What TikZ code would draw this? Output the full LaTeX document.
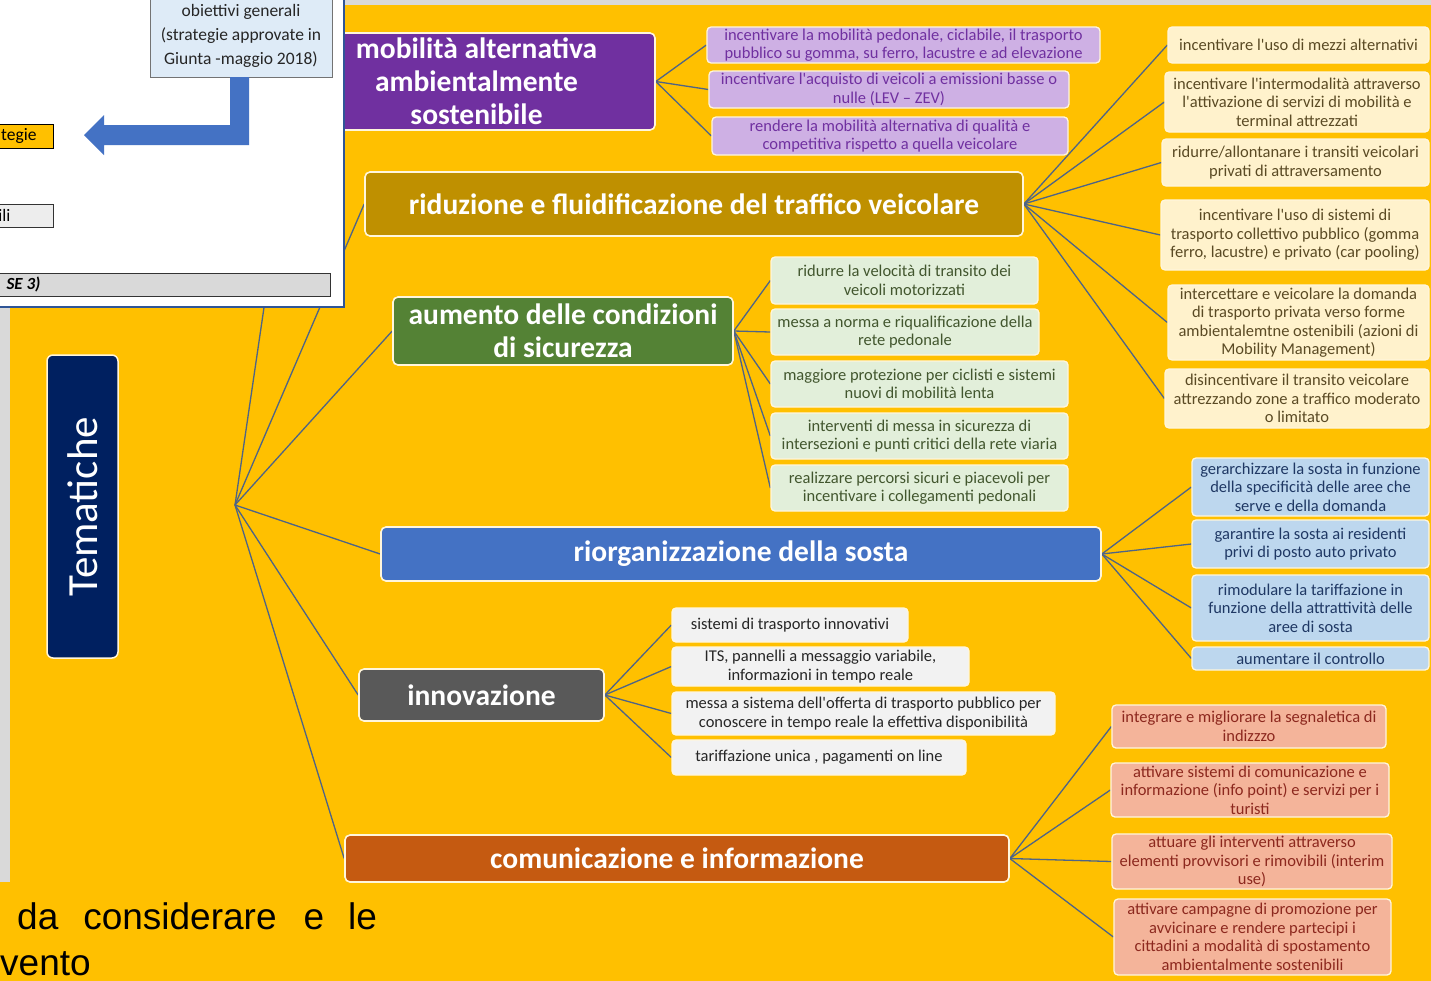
\documentclass[tikz,border=0pt]{standalone}
\usepackage{fontspec}
\setmainfont{Carlito}
\newfontfamily\arialf{Liberation Sans}
\pgfdeclarelayer{bgl}\pgfdeclarelayer{lines}\pgfdeclarelayer{front}
\pgfsetlayers{bgl,lines,main,front}
\newcommand\apo{\textquotesingle}
\definecolor{orangeBg}{RGB}{255,192,0}
\definecolor{cPurple}{RGB}{112,48,160}
\definecolor{cGold}{RGB}{191,144,0}
\definecolor{cGreen}{RGB}{84,130,53}
\definecolor{cBlue}{RGB}{68,114,196}
\definecolor{cGray}{RGB}{89,89,89}
\definecolor{cRust}{RGB}{197,90,17}
\definecolor{cNavy}{RGB}{0,32,96}
\definecolor{fPurple}{RGB}{206,176,228}
\definecolor{tPurple}{RGB}{112,48,160}
\definecolor{fCream}{RGB}{255,242,204}
\definecolor{tCream}{RGB}{90,74,36}
\definecolor{fGreen}{RGB}{226,239,218}
\definecolor{tGreen}{RGB}{66,86,46}
\definecolor{fBlue}{RGB}{189,215,238}
\definecolor{tBlue}{RGB}{31,56,100}
\definecolor{fGray}{RGB}{242,242,242}
\definecolor{tGray}{RGB}{38,38,38}
\definecolor{fSalmon}{RGB}{244,180,154}
\definecolor{tSalmon}{RGB}{140,40,30}
\definecolor{connC}{RGB}{78,100,135}
\definecolor{edgeC}{RGB}{255,246,220}
\definecolor{panelB}{RGB}{47,85,151}
\definecolor{boxLB}{RGB}{222,235,247}
\begin{document}
\begin{tikzpicture}[x=1pt,y=-1pt,
  mainbox/.style={rounded corners=5pt, draw=edgeC, line width=1.6pt, text=white,
    font=\bfseries\fontsize{29.5}{33}\selectfont, align=center, inner sep=1pt},
  subbox/.style={rounded corners=4pt, draw=edgeC, line width=1.3pt, align=center,
    inner sep=1pt, font=\fontsize{16.5}{18.5}\selectfont},
  subP/.style={subbox, fill=fPurple, text=tPurple},
  subY/.style={subbox, fill=fCream, text=tCream},
  subG/.style={subbox, fill=fGreen, text=tGreen},
  subB/.style={subbox, fill=fBlue, text=tBlue},
  subK/.style={subbox, fill=fGray, text=tGray},
  subR/.style={subbox, fill=fSalmon, text=tSalmon},
  conn/.style={draw=connC, line width=1.3pt},
  sz/.style 2 args={minimum width=#1pt, minimum height=#2pt}
]
\useasboundingbox (0,0) rectangle (1431,980);
\clip (0,0) rectangle (1431,980);
\begin{pgfonlayer}{bgl}
\fill[orangeBg] (-5,-5) rectangle (1436,985);
\fill[black!15] (344,-5) rectangle (1436,5);
\fill[black!15] (-5,307) rectangle (10,882);
\end{pgfonlayer}

% hub
\coordinate (hub) at (235,505);

% main nodes
\node[mainbox, fill=cPurple, sz={357}{97}] (mob) at (476.5,81.5) {mobilità alternativa\\ambientalmente\\sostenibile};
\node[mainbox, fill=cGold, sz={658}{64}] (rid) at (694,204) {riduzione e fluidificazione del traffico veicolare};
\node[mainbox, fill=cGreen, sz={340}{68}] (aum) at (563,331) {aumento delle condizioni\\di sicurezza};
\node[mainbox, fill=cBlue, sz={720}{54}] (rio) at (741,554) {riorganizzazione della sosta};
\node[mainbox, fill=cGray, sz={245}{52}] (inn) at (481.5,695) {innovazione};
\node[mainbox, fill=cRust, sz={664}{47}] (com) at (677,858.5) {comunicazione e informazione};

\node[rounded corners=6pt, fill=cNavy, draw=edgeC, line width=1.5pt, rotate=90,
  minimum width=303pt, minimum height=71pt, text=white,
  font=\fontsize{43}{50}\selectfont] (tem) at (82.5,506.5) {Tematiche};

% purple subs
\node[subP, sz={393}{36}] (m1) at (903.5,45) {incentivare la mobilità pedonale, ciclabile, il trasporto\\pubblico su gomma, su ferro, lacustre e ad elevazione};
\node[subP, sz={360}{37}] (m2) at (889,89.5) {incentivare l\apo acquisto di veicoli a emissioni basse o\\nulle (LEV – ZEV)};
\node[subP, sz={356}{38}] (m3) at (890,136) {rendere la mobilità alternativa di qualità e\\competitiva rispetto a quella veicolare};

% cream subs
\node[subY, sz={261}{36}] (r1) at (1298.5,45) {incentivare l\apo uso di mezzi alternativi};
\node[subY, sz={264}{60}] (r2) at (1297,102) {incentivare l\apo intermodalità attraverso\\l\apo attivazione di servizi di mobilità e\\terminal attrezzati};
\node[subY, sz={267}{47}] (r3) at (1295.5,162.5) {ridurre/allontanare i transiti veicolari\\privati di attraversamento};
\node[subY, sz={268}{70}] (r4) at (1295,235) {incentivare l\apo uso di sistemi di\\trasporto collettivo pubblico (gomma\\ferro, lacustre) e privato (car pooling)};
\node[subY, sz={261}{75}] (r5) at (1298.5,322.5) {intercettare e veicolare la domanda\\di trasporto privata verso forme\\ambientalemtne ostenibili (azioni di\\Mobility Management)};
\node[subY, sz={264}{59}] (r6) at (1297,398.5) {disincentivare il transito veicolare\\attrezzando zone a traffico moderato\\o limitato};

% green subs
\node[subG, sz={267}{47}] (a1) at (904.5,280.5) {ridurre la velocità di transito dei\\veicoli motorizzati};
\node[subG, sz={268}{46}] (a2) at (905,332) {messa a norma e riqualificazione della\\rete pedonale};
\node[subG, sz={297}{46}] (a3) at (919.5,384) {maggiore protezione per ciclisti e sistemi\\nuovi di mobilità lenta};
\node[subG, sz={297}{46}] (a4) at (919.5,436) {interventi di messa in sicurezza di\\intersezioni e punti critici della rete viaria};
\node[subG, sz={297}{46}] (a5) at (919.5,488) {realizzare percorsi sicuri e piacevoli per\\incentivare i collegamenti pedonali};

% blue subs
\node[subB, sz={237}{58}] (s1) at (1310.5,487) {gerarchizzare la sosta in funzione\\della specificità delle aree che\\serve e della domanda};
\node[subB, sz={237}{48}] (s2) at (1310.5,544) {garantire la sosta ai residenti\\privi di posto auto privato};
\node[subB, sz={237}{66}] (s3) at (1310.5,608) {rimodulare la tariffazione in\\funzione della attrattività delle\\aree di sosta};
\node[subB, sz={237}{23}] (s4) at (1310.5,658.5) {aumentare il controllo};

% gray subs
\node[subK, sz={236}{34}] (i1) at (790,625) {sistemi di trasporto innovativi};
\node[subK, sz={297}{39}] (i2) at (820.5,666.5) {ITS, pannelli a messaggio variabile,\\informazioni in tempo reale};
\node[subK, sz={383}{43}] (i3) at (863.5,713.5) {messa a sistema dell\apo offerta di trasporto pubblico per\\conoscere in tempo reale la effettiva disponibilità};
\node[subK, sz={294}{35}] (i4) at (819,757.5) {tariffazione unica , pagamenti on line};

% salmon subs
\node[subR, sz={274}{43}] (c1) at (1249,726.5) {integrare e migliorare la segnaletica di\\indizzzo};
\node[subR, sz={278}{54}] (c2) at (1250,790) {attivare sistemi di comunicazione e\\informazione (info point) e servizi per i\\turisti};
\node[subR, sz={280}{55}] (c3) at (1252,861.5) {attuare gli interventi attraverso\\elementi provvisori e rimovibili (interim\\use)};
\node[subR, sz={277}{76}] (c4) at (1252.5,937) {attivare campagne di promozione per\\avvicinare e rendere partecipi i\\cittadini a modalità di spostamento\\ambientalmente sostenibili};

% connectors
\begin{pgfonlayer}{lines}
\foreach \t in {mob,rid,aum,rio,inn,com} \draw[conn] (hub) -- (\t.west);
\foreach \t in {m1,m2,m3} \draw[conn] (mob.east) -- (\t.west);
\foreach \t in {r1,r2,r3,r4,r5,r6} \draw[conn] (rid.east) -- (\t.west);
\foreach \t in {a1,a2,a3,a4,a5} \draw[conn] (aum.east) -- (\t.west);
\foreach \t in {s1,s2,s3,s4} \draw[conn] (rio.east) -- (\t.west);
\foreach \t in {i1,i2,i3,i4} \draw[conn] (inn.east) -- (\t.west);
\foreach \t in {c1,c2,c3,c4} \draw[conn] (com.east) -- (\t.west);
\end{pgfonlayer}

% bottom text
\node[font=\arialf\fontsize{37}{44}\selectfont, anchor=base west, inner sep=0pt] (bt1) at (17,929) {da\hspace{25pt}considerare\hspace{27pt}e\hspace{24pt}le};
\node[font=\arialf\fontsize{37}{44}\selectfont, anchor=base west, inner sep=0pt] (bt2) at (0,975) {vento};

% top-left panel
\begin{pgfonlayer}{front}
\fill[white] (-5,-5) rectangle (344,307);
\draw[panelB, line width=1.5pt] (344,-5) -- (344,307) -- (-5,307);
\node[fill=boxLB, draw=black!55, line width=1pt, minimum width=182pt, minimum height=84pt,
  align=center, font=\fontsize{17.5}{24}\selectfont, text=black!85] (obj) at (241,35.5)
  {obiettivi generali\\(strategie approvate in\\Giunta -maggio 2018)};
\fill[cBlue] (230,77) -- (249,77) -- (249,145) -- (104,145) -- (104,155) -- (84,135)
  -- (104,115) -- (104,125) -- (230,125) -- cycle;
\node[draw=black, line width=1pt, fill=orangeBg, minimum height=24pt, inner xsep=17pt,
  anchor=east, font=\fontsize{17.5}{20}\selectfont] (strat) at (54,136) {tegie};
\node[draw=black!80, line width=1pt, fill=black!7, minimum height=23pt, inner xsep=43pt,
  anchor=east, font=\fontsize{17.5}{20}\selectfont] (ili) at (54,215.5) {ili};
\node[draw=black!80, line width=1pt, fill=black!15, minimum height=23pt, inner xsep=290pt,
  anchor=east, font=\bfseries\itshape\fontsize{17}{20}\selectfont] (fase) at (331,284.5) {SE 3)};
\end{pgfonlayer}
\end{tikzpicture}
\end{document}
